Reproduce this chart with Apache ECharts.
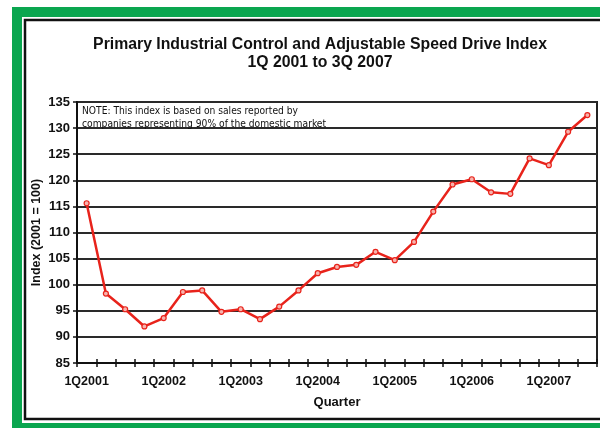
<!DOCTYPE html>
<html>
<head>
<meta charset="utf-8">
<script src="https://cdn.jsdelivr.net/npm/echarts@6/dist/echarts.min.js"></script>
<style>
html,body{margin:0;padding:0;background:#fff;}
#chart{width:600px;height:428px;}
</style>
</head>
<body>
<div id="chart"></div>
<script>
var titleLine1 = "Primary Industrial Control and Adjustable Speed Drive Index";
var titleLine2 = "1Q 2001 to 3Q 2007";
var noteLine1 = "NOTE: This index is based on sales reported by";
var noteLine2 = "companies representing 90% of the domestic market";
var yAxisTitle = "Index (2001 = 100)";
var xAxisTitle = "Quarter";
var quarters = [
  "1Q2001","2Q2001","3Q2001","4Q2001",
  "1Q2002","2Q2002","3Q2002","4Q2002",
  "1Q2003","2Q2003","3Q2003","4Q2003",
  "1Q2004","2Q2004","3Q2004","4Q2004",
  "1Q2005","2Q2005","3Q2005","4Q2005",
  "1Q2006","2Q2006","3Q2006","4Q2006",
  "1Q2007","2Q2007","3Q2007"
];
var indexValues = [
  115.6, 98.3, 95.3, 92.0,
  93.6, 98.6, 98.9, 94.8,
  95.3, 93.4, 95.8, 98.9,
  102.2, 103.4, 103.8, 106.3,
  104.7, 108.2, 114.0, 119.2,
  120.2, 117.7, 117.4, 124.2,
  122.9, 129.3, 132.5
];
var yMin = 85, yMax = 135, yStep = 5;

var chart = echarts.init(document.getElementById('chart'), null, {renderer:'canvas'});
var labelFont = '"Liberation Sans", Arial, sans-serif';
var noteFont = '10.2px "Liberation Sans Narrow", "DejaVu Sans Condensed", sans-serif';
var gridPos = {left:77, right:3, top:102, bottom:65};
var option = {
  animation:false,
  backgroundColor:'transparent',
  graphic:[
    {type:'rect', z:-100, shape:{x:12,y:7,width:600,height:430}, style:{fill:'#0aa64f'}, silent:true},
    {type:'rect', z:-99, shape:{x:22,y:17,width:600,height:406}, style:{fill:'#ffffff'}, silent:true},
    {type:'rect', z:-98, shape:{x:25,y:20,width:600,height:399}, style:{fill:'#ffffff', stroke:'#111', lineWidth:2.5}, silent:true},
    {type:'text', z:100, x:320, y:45, style:{text:titleLine1, font:'bold 15.8px '+labelFont, fill:'#111', textAlign:'center', textVerticalAlign:'middle'}},
    {type:'text', z:100, x:320, y:63, style:{text:titleLine2, font:'bold 15.8px '+labelFont, fill:'#111', textAlign:'center', textVerticalAlign:'middle'}},
    {type:'text', z:100, x:82, y:111, style:{text:noteLine1, font:noteFont, fill:'#111', textAlign:'left', textVerticalAlign:'middle'}},
    {type:'text', z:100, x:82, y:124, style:{text:noteLine2, font:noteFont, fill:'#111', textAlign:'left', textVerticalAlign:'middle'}}
  ],
  grid:{left:gridPos.left, right:gridPos.right, top:gridPos.top, bottom:gridPos.bottom, show:true, borderColor:'#222', borderWidth:2, backgroundColor:'transparent'},
  xAxis:[
    {
      type:'category', data:quarters, boundaryGap:true, position:'bottom',
      name:xAxisTitle, nameLocation:'middle', nameGap:33,
      nameTextStyle:{fontFamily:labelFont, fontWeight:'bold', fontSize:13, color:'#111'},
      axisLine:{lineStyle:{color:'#111', width:2}},
      axisTick:{show:true, interval:0, length:4, inside:false, lineStyle:{color:'#111', width:1.5}},
      axisLabel:{interval:3, margin:12, fontFamily:labelFont, fontWeight:'bold', fontSize:12.5, color:'#111'},
      splitLine:{show:false}
    },
    {
      type:'category', data:quarters, boundaryGap:true, position:'bottom', gridIndex:0,
      axisLine:{show:false},
      axisTick:{show:true, interval:0, length:4, inside:true, lineStyle:{color:'#111', width:1.5}},
      axisLabel:{show:false},
      splitLine:{show:false}
    }
  ],
  yAxis:{
    type:'value', min:yMin, max:yMax, interval:yStep,
    name:yAxisTitle, nameLocation:'middle', nameGap:34, nameRotate:90, nameMoveOverlap:false,
    nameTextStyle:{fontFamily:labelFont, fontWeight:'bold', fontSize:12.5, color:'#111'},
    axisLine:{show:true, lineStyle:{color:'#111', width:2}},
    axisTick:{show:true, length:4, lineStyle:{color:'#111', width:1.5}},
    axisLabel:{margin:7, fontFamily:labelFont, fontWeight:'bold', fontSize:13, color:'#111'},
    splitLine:{show:true, lineStyle:{color:'#2a2a2a', width:2}}
  },
  series:[{
    type:'line', data:indexValues, xAxisIndex:0,
    symbol:'circle', symbolSize:5, showSymbol:true,
    lineStyle:{color:'#e8231b', width:2.5},
    itemStyle:{color:'#f7b3ad', borderColor:'#e8231b', borderWidth:1.2},
    z:5
  }]
};
chart.setOption(option);
</script>
</body>
</html>
